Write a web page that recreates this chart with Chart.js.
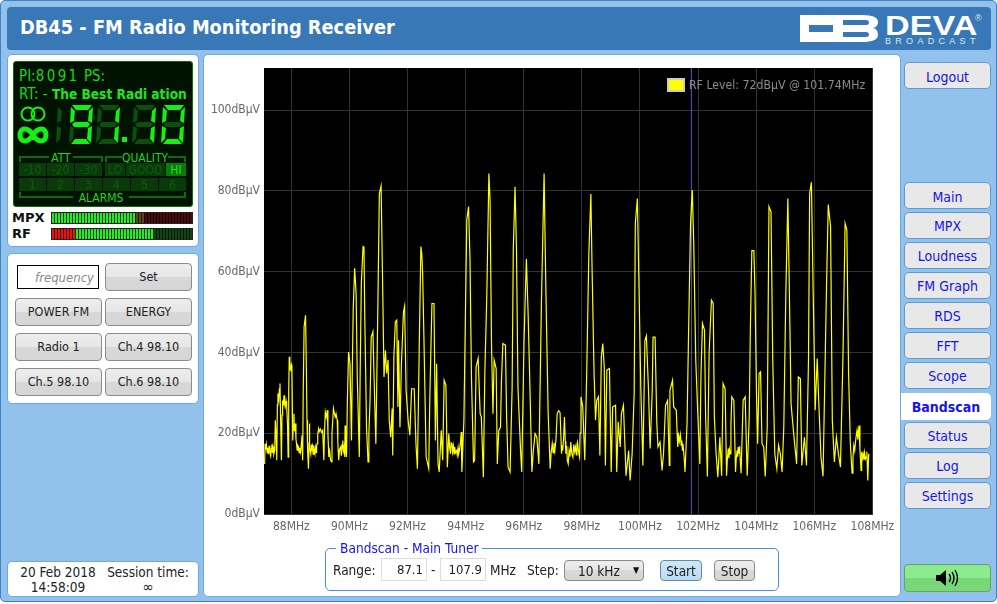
<!DOCTYPE html>
<html>
<head>
<meta charset="utf-8">
<title>DB45 - Bandscan</title>
<script src="https://cdn.jsdelivr.net/npm/chart.js@4"></script>
<style>
html,body{margin:0;padding:0;width:997px;height:604px;overflow:hidden;background:#fff;font-family:"DejaVu Sans Condensed","DejaVu Sans",sans-serif;font-size:13px;color:#222}
div,span,canvas,svg{position:absolute;box-sizing:border-box}
.c{display:flex;align-items:center;justify-content:center;white-space:nowrap}
.panel{background:#fff;border:1px solid #6fa8dc;border-radius:5px}
.btn{background:linear-gradient(#ededed 0,#e6e6e6 50%,#d8d8d8 50%,#d6d6d6 100%);border:1px solid #8a8a8a;border-radius:4px;color:#222;font-size:12.5px}
.pre{padding-bottom:2px}
.nav{left:904px;width:87px;height:27px;background:#e8e8e8;border:1px solid #5b9bd5;border-radius:5px;color:#1616e8;font-size:14px}
.lbl{white-space:nowrap}
.lcd{color:#16d816;white-space:nowrap}
.cell{background:#0a3a0a;color:#0d5a0d;font-size:12px}
.frame{border:2px solid #0c6a0c;border-bottom:0;height:6px}
.frame.b{border-top:0;border-bottom:2px solid #0c6a0c}
</style>
</head>
<body>
<div style="left:0;top:0;width:997px;height:602px;background:#92c1ec;border:1px solid #3f83c4;border-radius:5px"></div>
<div style="left:7px;top:7px;width:984px;height:43px;background:#3878b6;border-radius:4px"></div>
<div class="lbl" id="title" style="left:20px;top:16px;color:#fff;font-weight:bold;font-size:19.8px">DB45 - FM Radio Monitoring Receiver</div>

<svg style="left:800px;top:15px" width="80" height="27">
<path fill="#fff" fill-rule="evenodd" d="M0 0H62Q78 0 78 7Q78 12 73 13Q78 14 78 20Q78 27 62 27H0ZM9 10V17H33V10ZM43 5V10H66Q69 10 69 7.5Q69 5 66 5ZM43 17V22H66Q69 22 69 19.5Q69 17 66 17Z"/>
</svg>
<div class="lbl" style="left:885px;top:10px;color:#fff;font:bold 28px 'Liberation Sans',sans-serif;transform:scaleX(1.22);transform-origin:left top">DEVA</div>
<div class="lbl" style="left:885px;top:36px;color:#dce9f5;font:9px 'Liberation Sans',sans-serif;letter-spacing:4.3px">BROADCAST</div>
<div class="lbl" style="left:975px;top:13px;color:#dce9f5;font:9px 'Liberation Sans',sans-serif">®</div>

<!-- LCD panel -->
<div class="panel" style="left:7px;top:54px;width:192px;height:193px"></div>
<div style="left:13px;top:61px;width:180px;height:146px;background:#001200;border:1px solid #0c6a0c;border-radius:3px"></div>
<div class="lcd" style="left:19px;top:67px;font-size:15px">PI:<span style="position:static;letter-spacing:2.4px">8091</span> PS:</div>
<div class="lcd" style="left:19px;top:85px;font-size:15px">RT: - <span style="position:static;font-weight:bold;font-size:13.6px;color:#1ce81c">The Best Radi ation</span></div>
<svg id="seg" style="left:14px;top:98px" width="178" height="56"></svg>
<div class="frame" style="left:19px;top:156px;width:84px"></div>
<div class="frame" style="left:105px;top:156px;width:81px"></div>
<div class="c lcd" style="left:49px;top:151px;width:24px;height:13px;background:#001200;font-size:12px">ATT</div>
<div class="c lcd" style="left:122px;top:151px;width:46px;height:13px;background:#001200;font-size:12px">QUALITY</div>
<div class="c cell" style="left:19px;top:163px;width:27px;height:13px">-10</div>
<div class="c cell" style="left:47px;top:163px;width:27px;height:13px">-20</div>
<div class="c cell" style="left:75px;top:163px;width:27px;height:13px">-30</div>
<div class="c cell" style="left:105px;top:163px;width:20px;height:13px">LO</div>
<div class="c cell" style="left:126px;top:163px;width:39px;height:13px">GOOD</div>
<div class="c cell" style="left:166px;top:163px;width:20px;height:13px;background:#0b7a0b;color:#22e022">HI</div>
<div class="c cell" style="left:19px;top:178px;width:27px;height:13px">1</div>
<div class="c cell" style="left:47px;top:178px;width:27px;height:13px">2</div>
<div class="c cell" style="left:75px;top:178px;width:27px;height:13px">3</div>
<div class="c cell" style="left:103px;top:178px;width:27px;height:13px">4</div>
<div class="c cell" style="left:131px;top:178px;width:27px;height:13px">5</div>
<div class="c cell" style="left:159px;top:178px;width:27px;height:13px">6</div>
<div class="frame b" style="left:19px;top:192px;width:167px"></div>
<div class="c lcd" style="left:73px;top:191px;width:56px;height:13px;background:#001200;font-size:12px">ALARMS</div>
<div class="lbl" style="left:12px;top:210px;font-weight:bold;font-size:13px;color:#111;font-family:'DejaVu Sans'">MPX</div>
<div class="lbl" style="left:12px;top:226px;font-weight:bold;font-size:13px;color:#111;font-family:'DejaVu Sans'">RF</div>
<div style="left:51px;top:212px;width:142px;height:12px;background:linear-gradient(90deg,#22ee22 0,#22ee22 84px,#5a4a10 84px,#5a4a10 93px,#4a0b0b 93px,#4a0b0b 142px)"></div>
<div style="left:51px;top:228px;width:142px;height:12px;background:linear-gradient(90deg,#f01010 0,#f01010 24px,#22ee22 24px,#22ee22 103px,#0e4a0e 103px,#0e4a0e 142px)"></div>
<div style="left:51px;top:212px;width:142px;height:12px;background:repeating-linear-gradient(90deg,transparent 0,transparent 2px,rgba(0,0,0,.75) 2px,rgba(0,0,0,.75) 3px);border:1px solid #222"></div>
<div style="left:51px;top:228px;width:142px;height:12px;background:repeating-linear-gradient(90deg,transparent 0,transparent 2px,rgba(0,0,0,.75) 2px,rgba(0,0,0,.75) 3px);border:1px solid #222"></div>

<!-- Preset panel -->
<div class="panel" style="left:7px;top:253px;width:192px;height:151px"></div>
<div class="c" style="left:17px;top:265px;width:82px;height:24px;border:1px solid #000;justify-content:flex-end;padding-right:4px;color:#8a8a8a;font-style:italic;font-size:13px">frequency</div>
<div class="c btn pre" style="left:105px;top:263px;width:87px;height:28px">Set</div>
<div class="c btn pre" style="left:15px;top:298px;width:87px;height:28px">POWER FM</div>
<div class="c btn pre" style="left:105px;top:298px;width:87px;height:28px">ENERGY</div>
<div class="c btn pre" style="left:15px;top:333px;width:87px;height:28px">Radio 1</div>
<div class="c btn pre" style="left:105px;top:333px;width:87px;height:28px">Ch.4 98.10</div>
<div class="c btn pre" style="left:15px;top:368px;width:87px;height:28px">Ch.5 98.10</div>
<div class="c btn pre" style="left:105px;top:368px;width:87px;height:28px">Ch.6 98.10</div>

<div class="panel" style="left:7px;top:561px;width:192px;height:36px"></div>
<div class="c" style="left:10px;top:564px;width:96px;height:16px;font-size:13.5px">20 Feb 2018</div>
<div class="c" style="left:10px;top:579px;width:96px;height:16px;font-size:13.5px">14:58:09</div>
<div class="c" style="left:106px;top:564px;width:84px;height:16px;font-size:13.5px">Session time:</div>
<div class="c" style="left:106px;top:579px;width:84px;height:16px;font-size:15px">∞</div>

<!-- Chart panel -->
<div class="panel" style="left:203px;top:54px;width:698px;height:543px"></div>
<canvas id="bandscan" width="697" height="540" style="left:204px;top:55px;width:697px;height:540px"></canvas>
<div style="left:667px;top:78px;width:18px;height:14px;background:#ff0;border:2px solid #ccc"></div>
<div class="lbl" style="left:689px;top:78px;color:#8c8c8c;font-size:12.2px">RF Level: 72dBµV @ 101.74MHz</div>

<!-- Bandscan form -->
<div style="left:325px;top:548px;width:454px;height:43px;border:1px solid #4a90d0;border-radius:5px"></div>
<div class="lbl" style="left:336px;top:540px;padding:0 4px;background:#fff;color:#1414e6;font-size:13.6px">Bandscan - Main Tuner</div>
<div class="lbl" style="left:333px;top:562px;font-size:13.5px">Range:</div>
<div class="c" style="left:381px;top:558px;width:46px;height:23px;border:1px solid #dcdcdc;justify-content:flex-end;padding-right:3px;font-size:13px">87.1</div>
<div class="lbl" style="left:431px;top:562px;font-size:13.5px">-</div>
<div class="c" style="left:440px;top:558px;width:46px;height:23px;border:1px solid #dcdcdc;justify-content:flex-end;padding-right:3px;font-size:13px">107.9</div>
<div class="lbl" style="left:490px;top:562px;font-size:13.5px">MHz</div>
<div class="lbl" style="left:527px;top:562px;font-size:13.5px">Step:</div>
<div class="c btn" style="left:564px;top:560px;width:80px;height:21px;justify-content:flex-start;padding-left:13px;font-size:13.5px">10 kHz</div>
<div class="lbl" style="left:633px;top:565px;font-size:9px;color:#111">▼</div>
<div class="c" style="left:660px;top:560px;width:42px;height:21px;background:linear-gradient(#cfe8f8,#b8dcf4);border:1px solid #6a8a9a;border-radius:4px;font-size:13.5px">Start</div>
<div class="c btn" style="left:714px;top:560px;width:41px;height:21px;font-size:13.5px">Stop</div>

<!-- Navigation -->
<div class="c nav" style="top:62px;padding-top:2px">Logout</div>
<div class="c nav" style="top:182px;padding-top:2px">Main</div>
<div class="c nav" style="top:212px">MPX</div>
<div class="c nav" style="top:242px">Loudness</div>
<div class="c nav" style="top:272px">FM Graph</div>
<div class="c nav" style="top:302px">RDS</div>
<div class="c nav" style="top:332px">FFT</div>
<div class="c nav" style="top:362px">Scope</div>
<div class="c" style="left:901px;top:393px;width:90px;height:27px;background:#fff;border-radius:0 5px 5px 0;color:#1616e8;font-weight:bold;font-size:14px">Bandscan</div>
<div class="c nav" style="top:422px">Status</div>
<div class="c nav" style="top:452px">Log</div>
<div class="c nav" style="top:482px">Settings</div>
<div style="left:904px;top:564px;width:87px;height:28px;background:linear-gradient(#8ceb8c 0,#8ceb8c 50%,#78d878 50%,#78d878 100%);border:1px solid #6aa06a;border-radius:4px"></div>
<svg style="left:934px;top:568px" width="28" height="20">
<path d="M2 7H6L12 2V18L6 13H2Z" fill="#000"/>
<path d="M15 6Q18 10 15 14M18 4Q22 10 18 16M21 2Q26 10 21 18" fill="none" stroke="#000" stroke-width="1.4"/>
</svg>

<script>
const freqMHz = [
87.08,87.10,87.12,87.14,87.17,87.19,87.21,87.24,87.26,87.29,87.31,87.33,87.35,87.37,87.40,87.43,87.45,87.48,87.50,
87.52,87.54,87.57,87.59,87.61,87.63,87.66,87.68,87.70,87.72,87.75,87.77,87.79,87.82,87.84,87.87,87.89,87.91,87.93,87.95,87.98,88.00,88.02,
88.05,88.07,88.09,88.11,88.14,88.16,88.18,88.20,88.22,88.25,88.27,88.29,88.32,88.34,88.37,88.39,
88.41,88.44,88.49,88.51,88.54,88.56,88.59,88.61,88.62,88.64,88.67,88.69,88.71,88.73,88.75,88.77,88.79,88.81,88.83,88.85,88.87,88.89,88.91,88.94,
88.96,89.00,89.04,89.08,89.10,89.12,89.14,89.17,89.20,89.24,89.26,89.29,89.32,89.35,89.38,89.40,89.45,89.48,89.51,89.54,89.58,89.60,89.63,89.66,89.70,89.72,89.75,89.77,89.79,89.82,89.84,89.85,89.87,89.90,89.93,
89.97,90.02,90.07,90.10,90.13,90.18,90.23,90.27,90.34,90.37,90.41,90.47,90.50,90.53,90.59,90.64,90.67,90.71,90.75,90.81,
90.85,90.91,90.98,91.03,91.09,91.14,91.19,91.24,91.28,91.33,91.37,91.42,91.47,91.49,91.53,91.58,91.63,91.67,91.69,91.74,
91.79,91.86,91.90,91.95,92.02,92.08,92.14,92.23,92.29,92.34,92.41,92.46,92.49,92.52,92.57,92.64,92.73,92.77,92.84,92.91,
92.96,93.00,93.05,93.09,93.16,93.21,93.26,93.32,93.37,
93.42,93.45,93.48,93.50,93.53,93.55,93.58,93.60,93.62,93.65,93.69,93.71,93.74,93.76,93.79,93.82,93.85,93.87,93.90,93.94,
94.04,94.10,94.15,94.20,94.27,94.31,94.36,94.43,94.50,94.54,94.61,94.66,94.73,94.80,94.84,94.89,94.94,94.98,95.05,95.09,
95.14,95.20,95.23,95.28,95.37,95.41,95.46,95.53,95.60,95.64,95.70,95.75,95.80,95.89,95.93,96.01,96.09,96.15,96.22,96.28,
96.33,96.39,96.45,96.52,96.61,96.70,96.76,96.84,
96.91,96.94,96.98,97.01,97.04,97.07,97.11,97.15,97.20,97.25,97.30,97.32,97.34,97.37,97.40,97.43,97.45,97.48,97.50,97.53,97.56,97.59,97.62,97.65,97.69,97.72,97.75,97.78,97.81,97.83,97.85,97.88,97.92,97.94,
97.97,98.03,98.10,98.17,98.24,98.31,98.35,98.42,98.47,98.51,98.57,98.62,98.67,98.72,98.77,98.81,98.86,98.95,99.01,99.06,
99.16,99.20,99.25,99.32,99.36,99.43,99.48,99.52,99.61,99.66,99.73,99.80,99.84,99.91,99.96,100.03,100.10,100.17,100.22,100.29,
100.35,100.42,100.45,100.52,100.58,100.62,100.69,100.76,100.81,100.88,100.95,101.01,101.03,101.12,101.16,
101.25,101.28,101.30,101.33,101.36,101.39,101.42,101.44,101.46,101.48,101.51,101.53,101.55,
101.62,101.67,101.74,101.80,101.85,101.92,101.99,102.06,102.10,102.15,102.22,102.26,102.32,102.38,102.46,102.52,102.56,102.62,102.68,102.75,
102.81,102.86,102.93,
102.98,103.01,103.04,103.06,103.08,103.11,103.13,103.16,103.23,
103.29,103.31,103.34,103.36,103.38,103.41,103.43,103.45,103.48,
103.55,103.62,103.69,103.76,103.80,103.85,103.92,103.96,104.01,104.05,104.10,104.15,104.20,104.26,104.31,104.38,104.44,104.51,104.57,104.64,
104.71,104.77,104.83,104.89,104.95,105.02,105.09,105.13,105.20,105.29,105.39,105.45,105.52,105.57,105.66,105.73,105.80,105.84,105.90,105.96,
106.03,106.10,106.16,106.23,106.30,106.42,106.48,106.56,106.62,106.69,106.76,106.83,106.90,106.99,107.06,107.12,107.18,107.24,
107.30,107.33,107.36,107.39,107.42,107.45,107.47,107.50,107.54,107.57,107.61,107.63,107.65,107.68,107.71,107.73,107.76,107.79,107.81,107.84,107.87,107.89
];
const levelDb = [
12.4,17.4,15.9,17.2,15.2,16.4,14.8,16.9,15.3,14.4,16.2,17.2,15.1,16.6,14.9,15.8,23.2,19.0,13.3,
27.0,29.8,28.4,31.0,32.3,24.0,13.3,24.5,28.1,26.8,29.4,27.2,26.5,28.0,26.9,22.0,14.1,30.0,38.9,36.0,35.6,37.0,36.4,
18.2,22.0,24.8,20.5,22.4,18.5,17.4,15.8,17.0,16.6,15.2,16.4,15.3,16.8,19.5,13.3,
30.0,46.3,49.2,40.0,23.2,16.0,11.2,17.0,22.4,16.5,14.9,17.2,15.6,16.6,14.8,17.0,15.4,14.9,16.4,15.2,16.8,17.4,19.8,21.1,
20.4,21.0,20.2,20.7,17.0,13.3,20.0,25.2,24.0,25.7,20.0,14.1,15.6,13.4,12.9,20.0,26.1,25.0,24.0,24.8,23.2,18.0,13.3,16.0,16.6,14.4,17.2,18.2,15.6,16.8,14.1,21.9,16.0,14.1,28.0,
40.1,37.2,18.2,36.0,50.5,60.8,54.6,33.9,14.1,35.0,57.1,66.2,66.0,48.0,21.1,12.9,20.0,28.1,43.8,45.1,
33.1,17.4,52.1,79.4,81.2,58.3,33.9,40.5,34.8,38.1,23.2,19.0,26.1,14.5,38.9,47.6,48.0,26.5,43.0,21.5,
37.2,50.0,51.5,30.6,23.2,19.5,31.0,31.0,17.4,11.2,44.7,66.2,64.5,59.5,41.4,14.1,11.2,29.8,52.1,52.1,
18.2,37.2,12.4,10.4,20.7,13.3,33.1,31.9,11.6,
19.9,16.5,14.9,17.6,17.4,15.4,16.8,14.9,16.6,15.2,15.7,14.6,16.4,14.9,15.8,17.6,20.3,10.4,16.0,23.2,
72.8,76.1,62.9,33.9,12.9,13.3,36.4,38.5,24.8,24.0,9.1,34.8,54.6,84.3,77.7,42.2,24.8,38.1,36.0,12.4,
20.7,21.5,32.3,42.2,41.8,24.0,11.6,10.4,31.4,65.3,81.0,65.3,31.4,15.7,10.4,43.0,63.1,49.6,29.0,10.4,
15.7,19.9,19.0,12.4,52.9,84.3,56.2,24.8,
11.2,15.0,17.4,15.2,17.6,15.7,18.5,24.8,25.6,25.1,14.9,17.0,15.7,18.6,24.0,18.0,14.9,16.8,13.2,12.4,15.6,14.2,17.8,15.0,14.1,17.2,15.4,16.6,14.6,17.2,17.8,15.6,14.1,20.0,
29.0,26.5,13.3,36.0,64.5,79.2,61.2,34.8,23.2,28.1,29.0,14.5,38.9,42.2,36.4,12.0,35.6,36.0,10.4,26.5,
26.9,10.4,22.8,16.6,24.8,26.9,17.4,9.5,15.7,8.3,14.9,29.8,71.9,78.1,58.7,30.6,12.0,43.0,44.1,31.4,
16.2,30.2,43.8,43.8,22.4,16.6,17.8,10.8,14.9,26.9,28.1,12.0,30.6,33.1,26.5,
25.7,20.0,16.6,19.4,18.0,19.6,17.0,18.2,15.8,17.4,14.9,13.0,10.4,
22.4,43.8,71.9,80.2,67.0,38.1,24.8,12.4,34.8,47.2,45.5,24.0,9.3,40.1,52.9,52.1,24.0,14.9,9.1,19.0,
9.5,32.3,31.0,
9.5,14.0,16.2,13.8,16.0,14.9,22.0,29.0,28.1,
10.4,13.4,15.7,14.2,16.6,15.0,16.8,13.5,10.1,
28.1,29.0,9.5,24.0,46.3,65.2,65.2,54.6,29.8,17.4,34.8,35.2,17.4,16.6,9.3,21.5,76.1,74.8,38.1,14.9,
11.2,17.0,14.9,10.4,21.5,54.6,78.1,60.4,27.3,19.9,12.4,33.9,33.5,12.0,19.0,12.0,38.1,79.4,82.1,55.4,
25.7,38.5,26.5,14.1,9.3,56.2,76.6,71.1,23.2,12.9,19.0,14.9,11.6,40.5,71.9,70.3,34.8,17.4,
10.1,14.0,17.0,15.7,18.0,19.8,20.7,18.4,21.9,16.0,10.8,15.4,13.6,14.9,13.4,15.2,13.6,14.1,15.4,8.3,14.6,14.9
];
const cursorMHz = 101.77;
const xTickValues = [88,90,92,94,96,98,100,102,104,106,108];
const yTickValues = [0,20,40,60,80,100];
const xMin = 87.06, xMax = 108.02, yMax = 110.4;

// Fondo negro del area de trazado
const plotBackground = {
    id: 'plotBackground',
    beforeDraw(chart) {
        const a = chart.chartArea;
        chart.ctx.fillStyle = '#000';
        chart.ctx.fillRect(a.left, a.top, a.width, a.height);
    }
};

new Chart(document.getElementById('bandscan'), {
    type: 'line',
    data: {
        datasets: [{
            label: 'RF Level',
            data: freqMHz.map((f, i) => ({ x: f, y: levelDb[i] })),
            borderColor: '#ffff00',
            borderWidth: 1.2,
            pointRadius: 0,
            tension: 0
        }, {
            label: 'Cursor',
            data: [{ x: cursorMHz, y: 0 }, { x: cursorMHz, y: yMax }],
            borderColor: '#5555cc',
            borderWidth: 1,
            pointRadius: 0
        }]
    },
    options: {
        responsive: false,
        animation: false,
        devicePixelRatio: 1,
        layout: { padding: { top: 13, right: 28, left: 0, bottom: 0 } },
        plugins: { legend: { display: false }, tooltip: { enabled: false } },
        scales: {
            x: {
                type: 'linear',
                min: xMin,
                max: xMax,
                afterBuildTicks: s => { s.ticks = xTickValues.map(v => ({ value: v })); },
                afterFit: s => { s.height = 81; },
                grid: { color: '#333', drawTicks: false },
                border: { display: false },
                ticks: {
                    callback: v => v + 'MHz',
                    color: '#666',
                    font: { family: '"DejaVu Sans Condensed"', size: 12 },
                    maxRotation: 0,
                    autoSkip: false,
                    padding: 6
                }
            },
            y: {
                min: 0,
                max: yMax,
                afterBuildTicks: s => { s.ticks = yTickValues.map(v => ({ value: v })); },
                afterFit: s => { s.width = 60; },
                grid: { color: '#333', drawTicks: false },
                border: { display: false },
                ticks: {
                    callback: v => v + 'dBµV',
                    color: '#666',
                    font: { family: '"DejaVu Sans Condensed"', size: 12 },
                    padding: 4
                }
            }
        }
    },
    plugins: [plotBackground]
});

// Display de 7 segmentos
const digitX = [42, 55, 82, 118, 147];
const digitOn = ['', 'abcdfg', 'bc', 'bc', 'abcdef'];
const ns = 'http://www.w3.org/2000/svg';
const seg = document.getElementById('seg');
const segShape = {
    a: '3,7 23,7 19,12 7,12', b: '24,9 23,25 19,23 20,13', c: '23,28 22,45 18,41 19,30',
    d: '2,46 21,46 17,41 6,41', e: '1,28 5,30 4,41 0,45', f: '2,9 6,13 5,23 1,25', g: '6,24 19,24 21,26 19,29 5,29 3,26'
};
digitX.forEach((x, i) => {
    Object.keys(segShape).forEach(k => {
        if (i === 0 && k !== 'e' && k !== 'f') return;
        const p = document.createElementNS(ns, 'polygon');
        p.setAttribute('points', segShape[k]);
        p.setAttribute('transform', 'translate(' + x + ',0)');
        p.setAttribute('fill', digitOn[i].includes(k) ? '#14f014' : '#0b4f0b');
        seg.appendChild(p);
    });
});
function addShape(tag, attrs) {
    const el = document.createElementNS(ns, tag);
    Object.keys(attrs).forEach(k => el.setAttribute(k, attrs[k]));
    seg.appendChild(el);
}
addShape('rect', { x: 108, y: 39, width: 5, height: 5, fill: '#14f014' });
addShape('circle', { cx: 14, cy: 16, r: 6.5, fill: 'none', stroke: '#14f014', 'stroke-width': 2 });
addShape('circle', { cx: 24, cy: 16, r: 6.5, fill: 'none', stroke: '#14f014', 'stroke-width': 2 });
addShape('path', { d: 'M6 37C6 29 14 29 19 37C24 45 32 45 32 37C32 29 24 29 19 37C14 45 6 45 6 37Z', fill: 'none', stroke: '#14f014', 'stroke-width': 5 });
</script>
</body>
</html>
